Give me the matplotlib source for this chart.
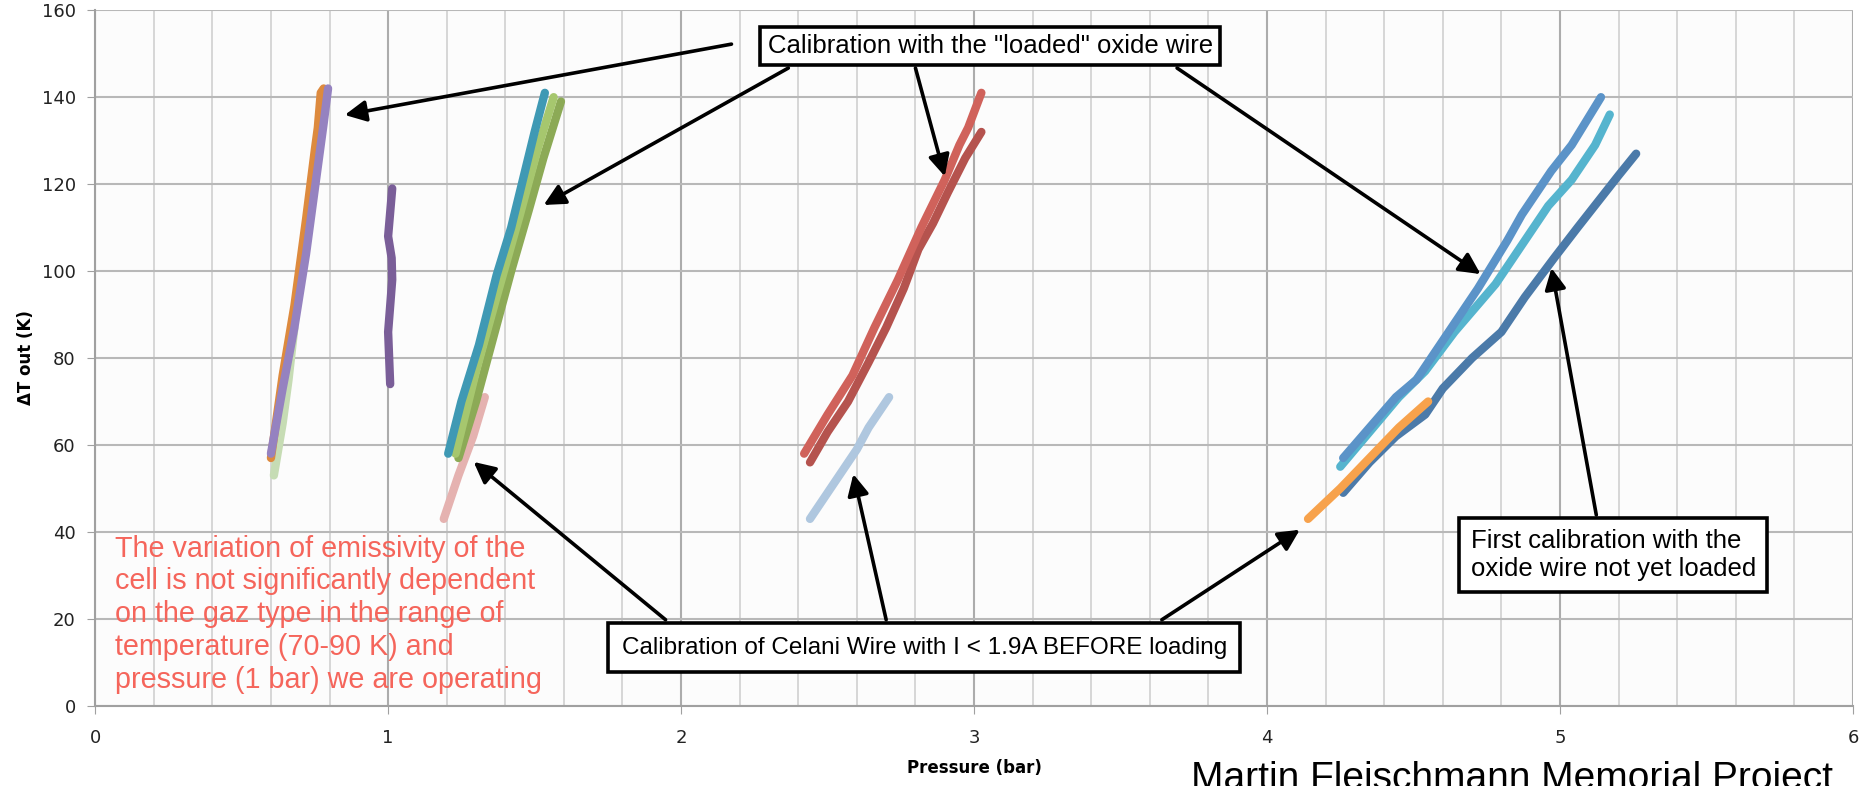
import numpy as np
import matplotlib.pyplot as plt

# pressure (bar) / delta T (K) traces
orange_p = [0.60, 0.64, 0.68, 0.72, 0.75, 0.76, 0.77, 0.78]
orange_t = [57, 76, 92, 112, 128, 133, 141, 142]
purple_p = [0.60, 0.64, 0.68, 0.72, 0.76, 0.78, 0.795]
purple_t = [58, 73, 87, 104, 124, 134, 142]
palegreen_p = [0.61, 0.64, 0.66, 0.68]
palegreen_t = [53, 65, 75, 87]
dkpurple_p = [1.007, 1.0, 1.014, 1.012, 1.0, 1.014]
dkpurple_t = [74, 86, 98, 103, 108, 119]
teal_p = [1.205, 1.25, 1.31, 1.37, 1.42, 1.46, 1.50, 1.535]
teal_t = [58, 70, 83, 99, 110, 121, 132, 141]
ltgreen_p = [1.23, 1.30, 1.37, 1.45, 1.51, 1.565]
ltgreen_t = [58, 77, 94, 113, 128, 140]
olive_p = [1.24, 1.30, 1.36, 1.42, 1.48, 1.53, 1.59]
olive_t = [57, 70, 85, 100, 114, 126, 139]
pink_p = [1.19, 1.24, 1.29, 1.33]
pink_t = [43, 53, 62, 71]
red1_p = [2.42, 2.50, 2.585, 2.66, 2.74, 2.82, 2.90, 2.95, 2.98, 3.025]
red1_t = [58, 67, 76, 87, 98, 110, 121, 129, 133, 141]
red2_p = [2.44, 2.50, 2.57, 2.64, 2.70, 2.76, 2.81, 2.86, 2.91, 2.97, 3.025]
red2_t = [56, 63, 70, 79, 87, 96, 105, 111, 118, 126, 132]
ltblue_p = [2.44, 2.50, 2.56, 2.60, 2.64, 2.67, 2.71]
ltblue_t = [43, 49, 55, 59, 64, 67, 71]
blue_p = [4.26, 4.35, 4.44, 4.51, 4.60, 4.72, 4.82, 4.87, 4.91, 4.97, 5.04, 5.14]
blue_t = [57, 64, 71, 75, 84, 96, 107, 113, 117, 123, 129, 140]
cyan_p = [4.25, 4.35, 4.45, 4.54, 4.64, 4.78, 4.87, 4.96, 5.04, 5.12, 5.17]
cyan_t = [55, 63, 71, 77, 86, 97, 106, 115, 121, 129, 136]
dkblue_p = [4.26, 4.35, 4.44, 4.54, 4.60, 4.70, 4.80, 4.88, 4.98, 5.06, 5.13, 5.20, 5.26]
dkblue_t = [49, 56, 62, 67, 73, 80, 86, 94, 103, 110, 116, 122, 127]
ltorange_p = [4.14, 4.25, 4.35, 4.45, 4.55]
ltorange_t = [43, 50, 57, 64, 70]

series = [
    (palegreen_p, palegreen_t, '#c6dcb4'),
    (orange_p, orange_t, '#dd8a3e'),
    (purple_p, purple_t, '#9582c0'),
    (dkpurple_p, dkpurple_t, '#7a5e98'),
    (pink_p, pink_t, '#e5b2b0'),
    (olive_p, olive_t, '#8caa56'),
    (ltgreen_p, ltgreen_t, '#a6c76e'),
    (teal_p, teal_t, '#3f99b4'),
    (ltblue_p, ltblue_t, '#afc7df'),
    (red2_p, red2_t, '#b5534e'),
    (red1_p, red1_t, '#d0625b'),
    (dkblue_p, dkblue_t, '#4b7aa9'),
    (ltorange_p, ltorange_t, '#f7a24c'),
    (cyan_p, cyan_t, '#55b4ce'),
    (blue_p, blue_t, '#5b93c8'),
]

note = ("The variation of emissivity of the\ncell is not significantly dependent\n"
        "on the gaz type in the range of\ntemperature (70-90 K) and\n"
        "pressure (1 bar) we are operating")

fig = plt.figure(figsize=(18.66, 7.86), dpi=100)
ax = fig.add_axes([0.051, 0.102, 0.942, 0.885])
ax.set_facecolor('#fcfcfc')

for p, t, c in series:
    ax.plot(p, t, color=c, lw=6, solid_capstyle='round', solid_joinstyle='round', zorder=3)

ax.set_xlim(0, 6)
ax.set_ylim(0, 160)
ax.set_xticks(range(0, 7))
ax.set_xticks(np.arange(0, 6.01, 0.2), minor=True)
ax.set_yticks(range(0, 161, 20))
ax.grid(which='minor', axis='x', color='#d4d4d4', lw=1.3)
ax.grid(which='major', axis='x', color='#acacac', lw=1.5)
ax.grid(which='major', axis='y', color='#b8b8b8', lw=1.5)
ax.set_axisbelow(True)
for s in ['top', 'right']:
    ax.spines[s].set_visible(False)
for s in ['left', 'bottom']:
    ax.spines[s].set_color('#a0a0a0')
    ax.spines[s].set_linewidth(1.5)
ax.tick_params(which='major', length=6, color='#a0a0a0', labelsize=13, labelcolor='#222222', pad=11)
ax.tick_params(which='minor', length=0)
ax.tick_params(axis='y', pad=8)
ax.set_xlabel('Pressure (bar)', fontsize=12, fontweight='bold', labelpad=8)
ax.set_ylabel('ΔT out (K)', fontsize=12, fontweight='bold', labelpad=5)

ax.text(0.068, 39.4, note, color='#f5655b', family='Liberation Sans', fontsize=20.7,
        va='top', ha='left', linespacing=1.22, zorder=4)

arr = dict(arrowstyle='-|>', color='black', lw=2.6, mutation_scale=32, shrinkA=0, shrinkB=0)

arrows = [
    ((2.172, 152.2), (0.852, 135.9)),
    ((2.366, 146.7), (1.531, 115.2)),
    ((2.80, 146.7), (2.90, 121.8)),
    ((3.693, 146.7), (4.729, 99.3)),
    ((1.947, 19.8), (1.292, 56.1)),
    ((2.70, 19.8), (2.588, 53.3)),
    ((3.641, 19.8), (4.112, 40.5)),
    ((5.124, 43.9), (4.971, 100.7)),
]
for tail, head in arrows:
    ax.annotate('', xy=head, xytext=tail, arrowprops=arr, zorder=5)

ax.text(3.055, 151.7, 'Calibration with the "loaded" oxide wire', ha='center', va='center',
        family='Liberation Sans', fontsize=18.5, zorder=6,
        bbox=dict(boxstyle='square,pad=0.28', fc='white', ec='black', lw=2.6))
ax.text(2.83, 13.4, 'Calibration of Celani Wire with I < 1.9A BEFORE loading', ha='center', va='center',
        family='Liberation Sans', fontsize=17.5, zorder=6,
        bbox=dict(boxstyle='square,pad=0.55', fc='white', ec='black', lw=2.6))
ax.text(4.695, 34.7, 'First calibration with the\noxide wire not yet loaded', ha='left', va='center',
        family='Liberation Sans', fontsize=18.5, zorder=6, linespacing=1.2,
        bbox=dict(boxstyle='square,pad=0.45', fc='white', ec='black', lw=2.6))

fig.text(0.638, -0.004, 'Martin Fleischmann Memorial Project', family='Liberation Sans',
         fontsize=28, va='baseline', ha='left')

fig.savefig('out.png', dpi=100)
